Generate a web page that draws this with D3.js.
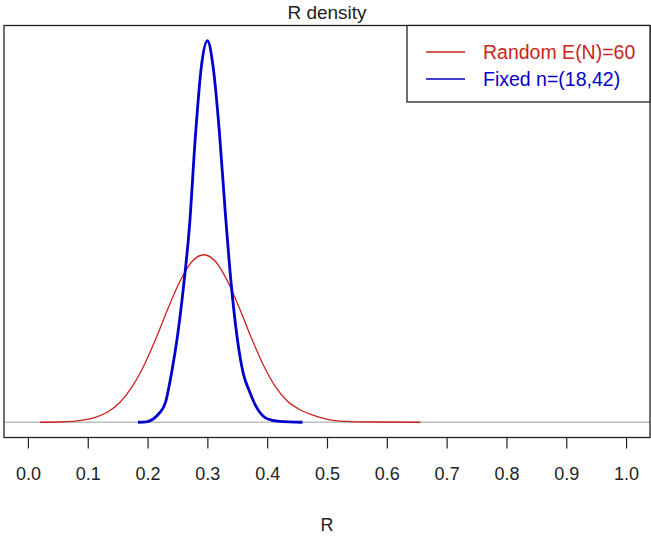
<!DOCTYPE html>
<html lang="en">
<head>
<meta charset="UTF-8">
<title>R density</title>
<script src="https://d3js.org/d3.v7.min.js"></script>
<style>
  body { margin: 0; background: #fff; }
  svg text { font-family: "Liberation Sans", Arial, sans-serif; }
</style>
</head>
<body>
<svg id="chart" width="651" height="536"></svg>
<script>
// values (R, density)
var redR = [0.02, 0.054, 0.094, 0.114, 0.134, 0.154, 0.174, 0.194, 0.214, 0.234, 0.254, 0.274, 0.294,
            0.314, 0.334, 0.354, 0.374, 0.394, 0.414, 0.434, 0.454, 0.474, 0.494, 0.514, 0.54, 0.58, 0.656];
var redD = [0, 0.01, 0.1, 0.22, 0.45, 0.86, 1.52, 2.44, 3.6, 4.88, 6.05, 6.9, 7.2,
            6.9, 6.05, 4.88, 3.6, 2.44, 1.52, 0.9, 0.55, 0.33, 0.17, 0.07, 0.03, 0.01, 0];
var blueR = [0.184, 0.20, 0.21, 0.22, 0.23, 0.24, 0.25, 0.26, 0.27, 0.28, 0.29, 0.30,
             0.31, 0.32, 0.33, 0.34, 0.35, 0.36, 0.37, 0.38, 0.39, 0.40, 0.42, 0.459];
var blueD = [0, 0.03, 0.15, 0.4, 0.85, 2.1, 3.7, 5.8, 8.4, 12.3, 15.3, 16.4,
             15.2, 12.5, 9.0, 5.9, 3.6, 2.1, 1.35, 0.75, 0.35, 0.15, 0.04, 0];
var xTicks = [0.0, 0.1, 0.2, 0.3, 0.4, 0.5, 0.6, 0.7, 0.8, 0.9, 1.0];
var legendLabels = ["Random E(N)=60", "Fixed n=(18,42)"];
var legendColors = ["#cc2222", "#0000cd"];

var svg = d3.select("#chart");
var box = {left: 4, right: 650, top: 25.5, bottom: 437.5};

// R style 4% padding on both axes
var x = d3.scaleLinear().domain([-0.04, 1.04]).range([box.left, box.right]);
var yMax = d3.max(blueD);
var y = d3.scaleLinear().domain([-0.04 * yMax, 1.04 * yMax]).range([box.bottom, box.top]);

// baseline at zero
svg.append("line")
  .attr("x1", box.left).attr("x2", box.right)
  .attr("y1", y(0)).attr("y2", y(0))
  .attr("stroke", "#bebebe").attr("stroke-width", 1.5);

var line = d3.line()
  .x(function(d) { return x(d[0]); })
  .y(function(d) { return y(d[1]); })
  .curve(d3.curveMonotoneX);

svg.append("path")
  .datum(d3.zip(redR, redD))
  .attr("d", line)
  .attr("fill", "none")
  .attr("stroke", legendColors[0])
  .attr("stroke-width", 1.3);

svg.append("path")
  .datum(d3.zip(blueR, blueD))
  .attr("d", line)
  .attr("fill", "none")
  .attr("stroke", legendColors[1])
  .attr("stroke-width", 2.8);

// plot frame
svg.append("rect")
  .attr("x", box.left).attr("y", box.top)
  .attr("width", box.right - box.left).attr("height", box.bottom - box.top)
  .attr("fill", "none").attr("stroke", "#222").attr("stroke-width", 1.3);

// x axis
var xAxis = d3.axisBottom(x)
  .tickValues(xTicks)
  .tickFormat(d3.format(".1f"))
  .tickSize(11)
  .tickPadding(19);
var gx = svg.append("g")
  .attr("transform", "translate(0," + box.bottom + ")")
  .call(xAxis);
gx.select(".domain").remove();
gx.selectAll(".tick line").attr("stroke", "#222").attr("stroke-width", 1.2);
gx.selectAll(".tick text")
  .attr("font-size", 18)
  .attr("fill", "#222");

// title and axis label
svg.append("text")
  .attr("x", (box.left + box.right) / 2).attr("y", 19)
  .attr("text-anchor", "middle")
  .attr("font-size", 19).attr("fill", "#222")
  .text("R density");

svg.append("text")
  .attr("x", (box.left + box.right) / 2).attr("y", 531)
  .attr("text-anchor", "middle")
  .attr("font-size", 18).attr("fill", "#222")
  .text("R");

// legend
var lg = svg.append("g");
lg.append("rect")
  .attr("x", 407).attr("y", box.top)
  .attr("width", box.right - 407).attr("height", 102 - box.top)
  .attr("fill", "#fff").attr("stroke", "#222").attr("stroke-width", 1.3);

legendLabels.forEach(function(lbl, i) {
  var ly = 52 + i * 27;
  lg.append("line")
    .attr("x1", 426).attr("x2", 465)
    .attr("y1", ly).attr("y2", ly)
    .attr("stroke", legendColors[i]).attr("stroke-width", 1.3);
  lg.append("text")
    .attr("x", 483).attr("y", ly + 7)
    .attr("font-size", 19.5)
    .attr("fill", legendColors[i])
    .text(lbl);
});
</script>
</body>
</html>
